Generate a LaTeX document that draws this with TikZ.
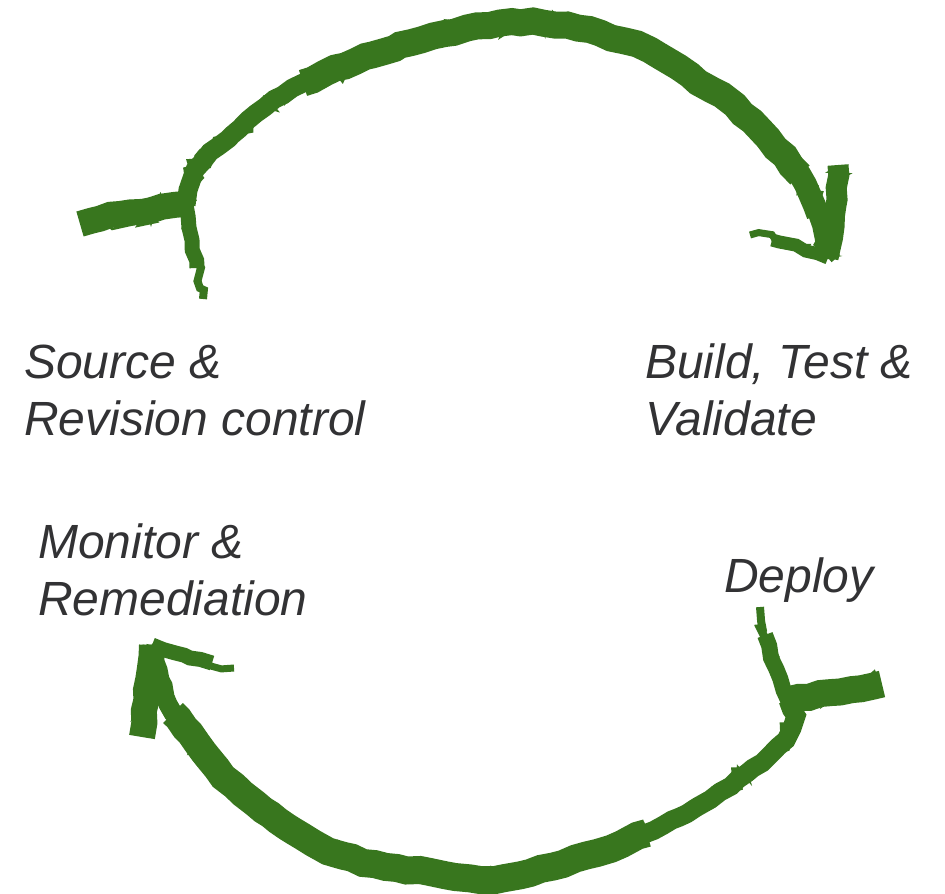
\documentclass[tikz,border=0pt]{standalone}
\usepackage{fontspec}
\setmainfont{Liberation Sans}
\usetikzlibrary{decorations.pathmorphing}
\definecolor{brush}{RGB}{56,118,30}
\definecolor{ink}{RGB}{50,50,52}
\begin{document}
\begin{tikzpicture}[x=1pt,y=-1pt,
  lbl/.style={anchor=base west, inner sep=0pt, font=\fontsize{48}{57}\selectfont\itshape, text=ink},
  brushstroke/.style={draw=brush, line join=miter, miter limit=3, line cap=butt,
    decorate, decoration={random steps, segment length=11pt, amplitude=1.6pt}},
  spikes/.style={draw=brush, line join=miter, miter limit=10, line cap=butt,
    decorate, decoration={random steps, segment length=8pt, amplitude=6pt}},
  jags/.style={draw=brush, line join=miter, miter limit=12, line cap=butt, line width=2.5pt,
    decorate, decoration={random steps, segment length=7pt, amplitude=#1}},
  jags/.default=11pt,
]
\pgfmathsetseed{11}
\useasboundingbox (0,0) rectangle (945,894);

% stage labels
\node[lbl] (src1) at (24,378) {Source \&};
\node[lbl] (src2) at (24,435) {Revision control};
\node[lbl] (bld1) at (645,378) {Build, Test \&};
\node[lbl] (bld2) at (645,435) {Validate};
\node[lbl] (mon1) at (38,558) {Monitor \&};
\node[lbl] (mon2) at (38,615) {Remediation};
\node[lbl] (dep)  at (724,592) {Deploy};

% ---- upper brush arrow: source -> build ----
\coordinate (ua) at (186,205);
\coordinate (ub) at (828,258);
\def\upperarc{(ua) -- (188,190) -- (195,170) -- (210,152) -- (232,135) -- (248,120)
  -- (265,107) -- (283,95) -- (303,83) -- (325,73) -- (345,66) -- (372,55)
  -- (400,45) -- (433,36) -- (467,28) -- (500,23) -- (533,21) -- (567,25)
  -- (600,33) -- (625,41) -- (650,50) -- (670,62) -- (690,75) -- (712,90)
  -- (735,105) -- (752,121) -- (768,138) -- (785,156) -- (800,175)
  -- (810,195) -- (818,215) -- (824,237) -- (ub)}
\draw[brushstroke, line width=19pt] \upperarc;
\draw[brushstroke, line width=27pt] (303,83) -- (325,73) -- (345,66) -- (372,55)
  -- (400,45) -- (433,36) -- (467,28) -- (500,23) -- (533,21) -- (567,25)
  -- (600,33) -- (625,41) -- (650,50) -- (670,62) -- (690,75) -- (712,90)
  -- (735,105) -- (752,121) -- (768,138) -- (785,156) -- (800,175);
\draw[brushstroke, line width=23pt] (785,156) -- (800,175) -- (810,195) -- (818,215);
\draw[spikes, line width=11pt] \upperarc;
\draw[jags] \upperarc;
% tail of the upper arrow
\draw[brushstroke, line width=26pt] (80,224) -- (120,214) -- (184,204);
\draw[jags=14pt] (84,222) -- (184,204);
\draw[brushstroke, line width=15pt] (ua) -- (192,240) -- (197,268);
\draw[jags=8pt] (ua) -- (192,240) -- (197,268);
\draw[spikes, line width=8pt] (197,262) -- (203,299);
% head of the upper arrow
\draw[brushstroke, line width=21pt] (838,165) -- (836,205) -- (ub);
\draw[jags=11pt] (838,168) -- (836,205) -- (ub);
\draw[brushstroke, line width=13pt] (ub) -- (790,244) -- (772,240);
\draw[jags=8pt] (ub) -- (790,244) -- (772,240);
\draw[spikes, line width=7pt] (776,241) -- (750,235);

% ---- lower brush arrow: deploy -> monitor ----
\coordinate (la) at (788,700);
\coordinate (lb) at (152,645);
\def\lowerarc{(la) -- (796,716) -- (792,728) -- (786,740) -- (770,755)
  -- (747,773) -- (720,792) -- (697,807) -- (672,820) -- (647,833)
  -- (622,844) -- (597,853) -- (563,864) -- (530,873) -- (505,878)
  -- (480,880) -- (455,877) -- (430,872) -- (397,868) -- (363,863)
  -- (337,854) -- (313,843) -- (287,827) -- (263,810) -- (243,794)
  -- (223,777) -- (210,760) -- (197,743) -- (185,728) -- (173,713)
  -- (165,697) -- (160,680) -- (155,662) -- (lb)}
\draw[brushstroke, line width=19pt] \lowerarc;
\draw[brushstroke, line width=28pt] (647,833)
  -- (622,844) -- (597,853) -- (563,864) -- (530,873) -- (505,878)
  -- (480,880) -- (455,877) -- (430,872) -- (397,868) -- (363,863)
  -- (337,854) -- (313,843) -- (287,827) -- (263,810) -- (243,794)
  -- (223,777) -- (210,760) -- (197,743) -- (185,728) -- (173,713);
\draw[spikes, line width=11pt] \lowerarc;
\draw[jags] \lowerarc;
% tail of the lower arrow
\draw[brushstroke, line width=27pt] (la) -- (840,692) -- (882,684);
\draw[jags=14pt] (la) -- (840,692) -- (878,685);
\draw[brushstroke, line width=16pt] (la) -- (771,658) -- (765,635);
\draw[jags=9pt] (la) -- (771,658) -- (765,635);
\draw[spikes, line width=8pt] (766,640) -- (760,607);
% head of the lower arrow
\draw[brushstroke, line width=26pt] (lb) -- (146,690) -- (142,737);
\draw[jags=13pt] (lb) -- (146,690) -- (142,735);
\draw[brushstroke, line width=15pt] (lb) -- (190,658) -- (212,663);
\draw[jags=8pt] (lb) -- (190,658) -- (212,663);
\draw[spikes, line width=7pt] (207,662) -- (234,668);
\end{tikzpicture}
\end{document}
